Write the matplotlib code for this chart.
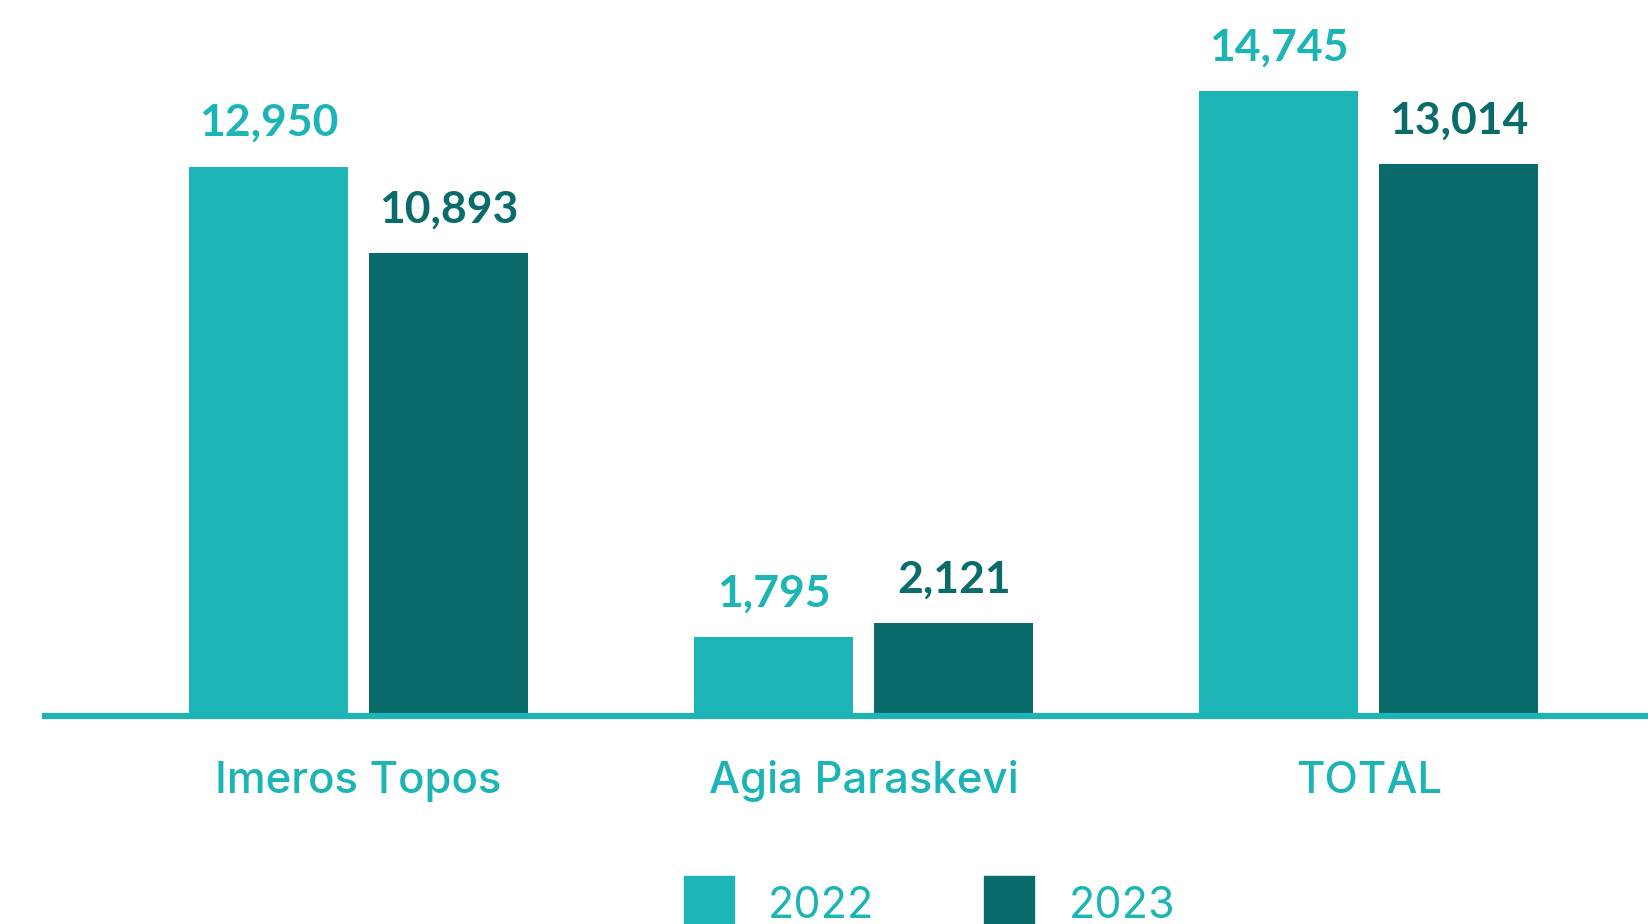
import matplotlib.pyplot as plt
import numpy as np
from matplotlib.patches import Rectangle

categories = ['Imeros Topos', 'Agia Paraskevi', 'TOTAL']
years = ['2022', '2023']
values_2022 = [12950, 1795, 14745]
values_2023 = [10893, 2121, 13014]

teal = '#1db4b5'
dark = '#0a6b6b'

plt.rcParams['font.family'] = ['Lato', 'DejaVu Sans']

fig = plt.figure(figsize=(16.48, 9.24), dpi=100)
ax = fig.add_axes([0, 0, 1, 1])

x = np.arange(len(categories))
w = 0.315
off = 0.1785

b1 = ax.bar(x - off, values_2022, w, color=teal, zorder=2)
b2 = ax.bar(x + off, values_2023, w, color=dark, zorder=2)

for bars, vals, col in [(b1, values_2022, teal), (b2, values_2023, dark)]:
    for b, v in zip(bars, vals):
        ax.annotate(f'{v:,}', (b.get_x() + b.get_width() / 2, v),
                    xytext=(0, 22), textcoords='offset points',
                    ha='center', va='baseline', fontsize=32,
                    fontweight='bold', color=col)

# baseline
ax.axhline(-70, xmin=45 / 1648, xmax=1, color=teal, lw=4.4, zorder=3)

for xi, c in zip(x, categories):
    ax.text(xi, -1896, c, ha='center', va='baseline', fontsize=31.5,
            color=teal, fontweight='medium', family=['Inter', 'DejaVu Sans'])

ax.set_xlim(-0.71, 2.553)
ax.set_ylim(-5000, 16896)
ax.axis('off')

# legend
for sx, tx, col, yr in [(684, 768, teal, years[0]), (984, 1069, dark, years[1])]:
    fig.patches.append(Rectangle((sx / 1648, 0), 50 / 1648, (924 - 876) / 924,
                                 transform=fig.transFigure, color=col))
    fig.text(tx / 1648, 6 / 924, yr, ha='left', va='baseline',
             fontsize=31, color=teal, family=['Inter', 'DejaVu Sans'])

fig.savefig('out.png', dpi=100, facecolor='white')
